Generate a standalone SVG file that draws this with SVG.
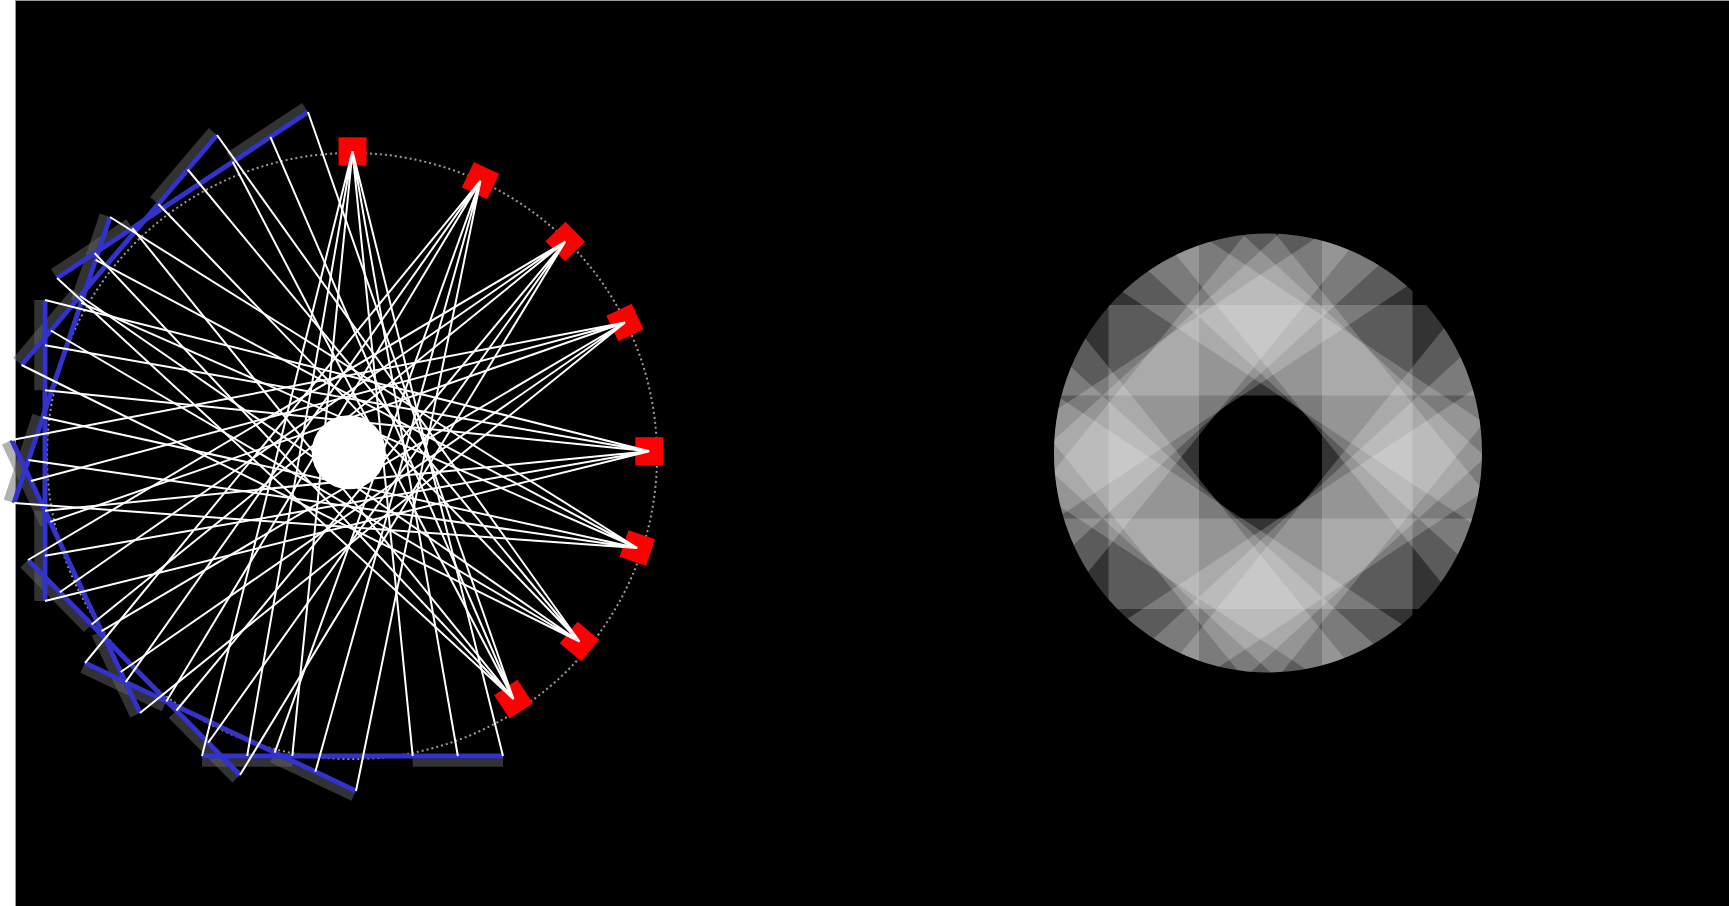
<svg xmlns="http://www.w3.org/2000/svg" width="1729" height="906" viewBox="0 0 1729 906">
<defs>
<style>
.dot{fill:none;stroke:#9a9a9a;stroke-width:2;stroke-dasharray:2 3}
.sq{fill:#ff0000}
.sh{stroke:#646464;stroke-opacity:0.5;stroke-width:8.5;fill:none}
.st{stroke:#3333cc;stroke-width:5;fill:none}
.wl{stroke:#ffffff;stroke-width:2;fill:none}
.band{fill:#ffffff;fill-opacity:0.2}
</style>
<clipPath id="cp"><ellipse cx="1268" cy="453" rx="214" ry="219.5"/></clipPath>
<g id="layer"><rect class="band" x="1322" y="150" width="90.5" height="614"/><rect class="band" x="1108.5" y="150" width="90.5" height="614"/></g>
</defs>
<rect width="1729" height="906" fill="#ffffff"/>
<rect x="15.5" y="0.5" width="1714" height="906" fill="#000000" stroke="#999999" stroke-width="1"/>

<g id="left-figure">
<ellipse id="guide-circle" class="dot" cx="352" cy="456" rx="305" ry="303"/>

<g id="emitters">
<rect id="r1" class="sq" x="-14" y="-14" width="28" height="28" transform="translate(352.5 151.3)"/>
<rect id="r2" class="sq" x="-14" y="-14" width="28" height="28" transform="translate(480.5 180.7) rotate(-64.4)"/>
<rect id="r3" class="sq" x="-14" y="-14" width="28" height="28" transform="translate(565.3 241.5) rotate(-44.5)"/>
<rect id="r4" class="sq" x="-14" y="-14" width="28" height="28" transform="translate(625 322.5) rotate(-25.2)"/>
<rect id="r5" class="sq" x="-14" y="-14" width="28" height="28" transform="translate(649.3 451.2)"/>
<rect id="r6" class="sq" x="-14" y="-14" width="28" height="28" transform="translate(637.3 548) rotate(18.5)"/>
<rect id="r7" class="sq" x="-14" y="-14" width="28" height="28" transform="translate(579.5 641.5) rotate(39.7)"/>
<rect id="r8" class="sq" x="-14" y="-14" width="28" height="28" transform="translate(513.5 699.2) rotate(56.7)"/>
</g>

<g id="shadows">
<path class="sh" d="M202 762.5H292.3M412.7 762.5H503"/>
<path class="sh" d="M82.2 668.9L163.5 707.3M271.9 758.5L353.2 796.9"/>
<path class="sh" d="M23.4 564.6L87 629.1M171.8 715.1L235.4 779.6"/>
<path class="sh" d="M5.8 442.8L44.3 524.7M95.6 633.9L134.1 715.8"/>
<path class="sh" d="M38.5 300V390.3M38.5 510.7V601"/>
<path class="sh" d="M103.8 214.9L75 300.7M36.6 415.1L7.8 500.9"/>
<path class="sh" d="M212 130.8L153.35 199.8M75.15 291.8L16.5 360.8"/>
<path class="sh" d="M304.4 106.6L229.1 156.4M128.7 222.8L53.4 272.6"/>
</g>

<g id="sticks">
<line id="s8" class="st" x1="202" y1="756" x2="503" y2="756"/>
<line id="s7" class="st" x1="85" y1="663" x2="356" y2="791"/>
<line id="s6" class="st" x1="28" y1="560" x2="240" y2="775"/>
<line id="s5" class="st" x1="11.7" y1="440" x2="140" y2="713"/>
<line id="s3" class="st" x1="45" y1="300" x2="45" y2="601"/>
<line id="s4" class="st" x1="110" y1="217" x2="14" y2="503"/>
<line id="s2" class="st" x1="217" y1="135" x2="21.5" y2="365"/>
<line id="s1" class="st" x1="308" y1="112" x2="57" y2="278"/>
</g>

<g id="connectors">
<path class="wl" d="M352.5 151.3L202 756M352.5 151.3L247.15 756M352.5 151.3L292.3 756M352.5 151.3L412.7 756M352.5 151.3L457.85 756M352.5 151.3L503 756"/>
<path class="wl" d="M480.5 180.7L85 663M480.5 180.7L125.65 682.2M480.5 180.7L166.3 701.4M480.5 180.7L274.7 752.6M480.5 180.7L315.35 771.8M480.5 180.7L356 791"/>
<path class="wl" d="M565.3 241.5L28 560M565.3 241.5L59.8 592.25M565.3 241.5L91.6 624.5M565.3 241.5L176.4 710.5M565.3 241.5L208.2 742.75M565.3 241.5L240 775"/>
<path class="wl" d="M625 322.5L11.7 440M625 322.5L30.95 480.95M625 322.5L50.2 521.9M625 322.5L101.5 631.1M625 322.5L120.75 672.05M625 322.5L140 713"/>
<path class="wl" d="M649.3 451.2L45 300M649.3 451.2L45 345.15M649.3 451.2L45 390.3M649.3 451.2L45 510.7M649.3 451.2L45 555.85M649.3 451.2L45 601"/>
<path class="wl" d="M637.3 548L110 217M637.3 548L95.6 259.9M637.3 548L81.2 302.8M637.3 548L42.8 417.2M637.3 548L28.4 460.1M637.3 548L14 503"/>
<path class="wl" d="M579.5 641.5L217 135M579.5 641.5L187.7 169.5M579.5 641.5L158.35 204M579.5 641.5L80.15 296M579.5 641.5L50.8 330.5M579.5 641.5L21.5 365"/>
<path class="wl" d="M513.5 699.2L308 112M513.5 699.2L270.35 136.9M513.5 699.2L232.7 161.8M513.5 699.2L132.3 228.2M513.5 699.2L94.65 253.1M513.5 699.2L57 278"/>
</g>

<circle id="hub" cx="348.7" cy="452.2" r="37" fill="#ffffff"/>
</g>

<g id="right-figure" clip-path="url(#cp)">
<use href="#layer"/>
<use href="#layer" transform="rotate(90 1260.5 457)"/>
<use href="#layer" transform="rotate(39 1260.5 457)"/>
<use href="#layer" transform="rotate(47.5 1260.5 457)"/>
<use href="#layer" transform="rotate(56.5 1260.5 457)"/>
<use href="#layer" transform="rotate(123.5 1260.5 457)"/>
<use href="#layer" transform="rotate(132.5 1260.5 457)"/>
<use href="#layer" transform="rotate(141 1260.5 457)"/>
</g>
</svg>
